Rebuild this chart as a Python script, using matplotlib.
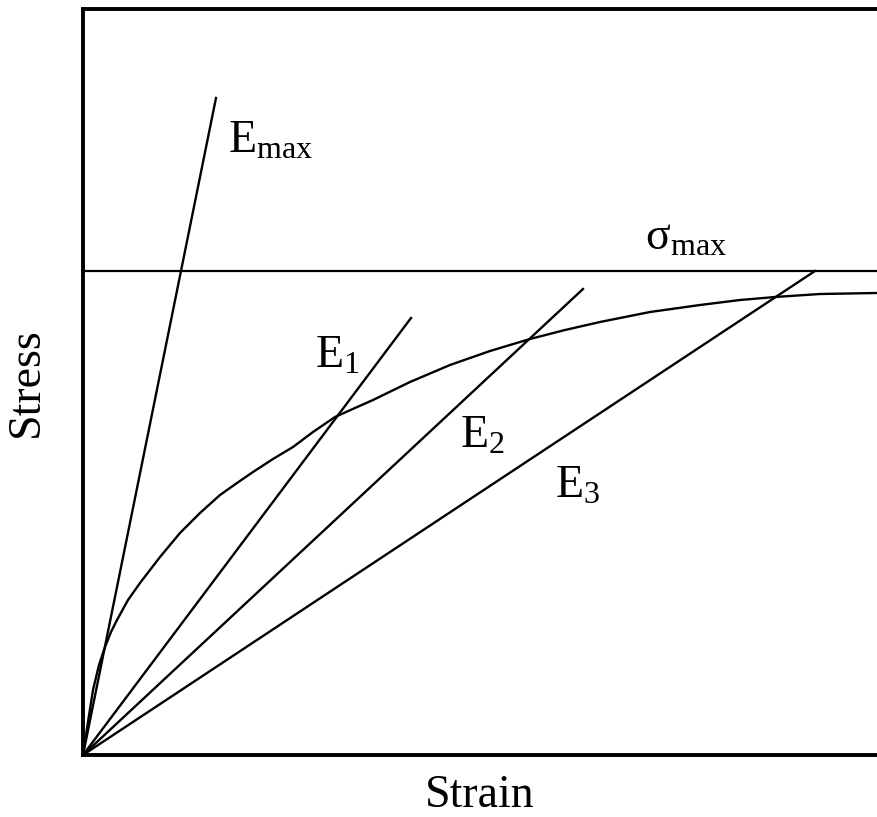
import numpy as np
import matplotlib
matplotlib.use('Agg')
from matplotlib import pyplot as plt

plt.rcParams['font.family'] = ['Liberation Serif', 'DejaVu Serif']
plt.rcParams['mathtext.fontset'] = 'custom'
plt.rcParams['mathtext.rm'] = 'Liberation Serif'
plt.rcParams['mathtext.it'] = 'Liberation Serif:italic'

# stress-strain curve (arbitrary units)
strain = [0, 5, 10, 16, 22, 28, 34, 45, 57, 77, 97, 117, 137, 154, 170, 190, 210,
          230, 252, 272, 290, 327, 367, 407, 447, 482, 517, 567, 617, 657, 692, 737, 794]
stress = [0, 33, 65, 90, 108, 123, 135, 155, 172, 198, 222, 242, 260, 272, 283, 296, 308,
          323, 338, 347, 355, 373, 390, 404, 416, 425, 433, 443, 450, 455, 458, 461, 462]

# modulus lines: end point of each line from the origin
mod_names = [r'$\mathrm{E}_{\mathrm{max}}$', r'$\mathrm{E}_{1}$', r'$\mathrm{E}_{2}$', r'$\mathrm{E}_{3}$']
mod_end_x = [133, 328, 500, 732]
mod_end_y = [657, 437, 466, 484]
label_x = [145, 232, 377, 472]
label_y = [602, 387, 307, 257]

sigma_max = 484

fig = plt.figure(figsize=(8.77, 8.17), dpi=100)
ax = fig.add_axes([83/877, 62/817, 1 - 83/877, 746/817])

ax.plot(strain, stress, color='black', lw=1.7, solid_joinstyle='round')
for ex, ey in zip(mod_end_x, mod_end_y):
    ax.plot([0, ex], [0, ey], color='black', lw=1.7)
ax.axhline(sigma_max, color='black', lw=1.6)

for name, lx, ly in zip(mod_names, label_x, label_y):
    ax.text(lx, ly, name, fontsize=33, ha='left', va='baseline')
ax.text(562, 505, r'$\mathrm{σ}_{\mathrm{max}}$', fontsize=33, ha='left', va='baseline')

ax.set_xlim(0, 794)
ax.set_ylim(0, 746)
ax.set_xticks([])
ax.set_yticks([])
ax.spines['right'].set_visible(False)
for s in ['left', 'top', 'bottom']:
    ax.spines[s].set_linewidth(2.8)

ax.set_xlabel('Strain', fontsize=33, labelpad=14)
ax.set_ylabel('Stress', fontsize=33, labelpad=25)

fig.savefig('out.png', dpi=100)
